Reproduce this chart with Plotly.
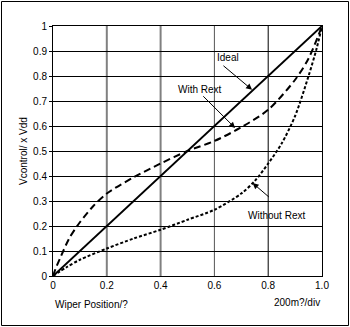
import plotly.graph_objects as go

# data
ideal_x = [0.0, 1.0]
ideal_y = [0.0, 1.0]

with_x = [0, 0.01, 0.03, 0.06, 0.1, 0.15, 0.2, 0.3, 0.4, 0.5, 0.6, 0.7, 0.8, 0.9, 0.95, 1.0]
with_y = [0, 0.03, 0.08, 0.15, 0.215, 0.28, 0.33, 0.395, 0.45, 0.5, 0.54, 0.595, 0.665, 0.785, 0.87, 1.0]

without_x = [0, 0.05, 0.1, 0.2, 0.3, 0.4, 0.5, 0.6, 0.7, 0.75, 0.8, 0.85, 0.9, 0.95, 0.98, 1.0]
without_y = [0, 0.035, 0.065, 0.11, 0.15, 0.185, 0.225, 0.265, 0.33, 0.38, 0.45, 0.53, 0.64, 0.8, 0.91, 1.0]

x_ticks = [0, 0.2, 0.4, 0.6, 0.8, 1.0]
x_ticktext = ["0", "0.2", "0.4", "0.6", "0.8", "1.0"]
y_ticks = [0, 0.1, 0.2, 0.3, 0.4, 0.5, 0.6, 0.7, 0.8, 0.9, 1.0]
y_ticktext = ["0", "0.1", "0.2", "0.3", "0.4", "0.5", "0.6", "0.7", "0.8", "0.9", "1"]

gray_grid_x = [0.2, 0.4]
dark_grid_x = [0.6]
black_grid_x = [0.8]

FONT = "Liberation Sans, Arial, sans-serif"

fig = go.Figure()
fig.add_trace(go.Scatter(x=ideal_x, y=ideal_y, mode="lines",
                         line=dict(color="black", width=2), name="Ideal"))
fig.add_trace(go.Scatter(x=with_x, y=with_y, mode="lines",
                         line=dict(color="black", width=2, dash="7px,4px", shape="spline", smoothing=0.8),
                         name="With Rext"))
fig.add_trace(go.Scatter(x=without_x, y=without_y, mode="lines",
                         line=dict(color="black", width=2, dash="3px,2px", shape="spline", smoothing=0.8),
                         name="Without Rext"))

shapes = []
for gx in gray_grid_x:
    shapes.append(dict(type="line", xref="x", yref="paper", x0=gx, x1=gx, y0=0, y1=1,
                       line=dict(color="#808080", width=2), layer="below"))
for gx in dark_grid_x:
    shapes.append(dict(type="line", xref="x", yref="paper", x0=gx, x1=gx, y0=0, y1=1,
                       line=dict(color="#555555", width=1), layer="below"))
for gx in black_grid_x:
    shapes.append(dict(type="line", xref="x", yref="paper", x0=gx, x1=gx, y0=0, y1=1,
                       line=dict(color="black", width=1), layer="below"))
# outer frame
shapes.append(dict(type="rect", xref="paper", yref="paper",
                   x0=(1.5 - 53) / 269, x1=(348.5 - 53) / 269,
                   y0=(276 - 325.5) / 250, y1=(276 - 1.5) / 250,
                   line=dict(color="black", width=1)))

annotations = [
    dict(x=0.74, y=0.745, ax=0.628, ay=0.846, xref="x", yref="y", axref="x", ayref="y",
         text="", showarrow=True, arrowhead=2, arrowsize=1.2, arrowwidth=1, arrowcolor="black"),
    dict(x=0.677, y=0.592, ax=0.553, ay=0.725, xref="x", yref="y", axref="x", ayref="y",
         text="", showarrow=True, arrowhead=2, arrowsize=1.2, arrowwidth=1, arrowcolor="black"),
    dict(x=0.742, y=0.372, ax=0.808, ay=0.311, xref="x", yref="y", axref="x", ayref="y",
         text="", showarrow=True, arrowhead=2, arrowsize=1.2, arrowwidth=1, arrowcolor="black"),
    dict(x=0.649, y=0.874, xref="x", yref="y", text="Ideal", showarrow=False,
         font=dict(family=FONT, size=10, color="black")),
    dict(x=0.547, y=0.747, xref="x", yref="y", text="With Rext", showarrow=False,
         font=dict(family=FONT, size=10, color="black")),
    dict(x=0.832, y=0.244, xref="x", yref="y", text="Without Rext", showarrow=False,
         font=dict(family=FONT, size=10, color="black")),
    dict(x=(23 - 53) / 269, y=0.5, xref="paper", yref="paper", text="Vcontrol/ x Vdd",
         textangle=-90, showarrow=False, xanchor="center", yanchor="middle",
         font=dict(family=FONT, size=10, color="black")),
    dict(x=0, y=(276 - 304) / 250, xref="paper", yref="paper", text="Wiper Position/?",
         showarrow=False, xanchor="left", yanchor="middle",
         font=dict(family=FONT, size=10, color="black")),
    dict(x=1, y=(276 - 302) / 250, xref="paper", yref="paper", text="200m?/div",
         showarrow=False, xanchor="right", yanchor="middle",
         font=dict(family=FONT, size=10, color="black")),
]

fig.update_layout(
    width=350, height=327,
    margin=dict(l=53, r=28, t=26, b=51, pad=0),
    paper_bgcolor="white", plot_bgcolor="white",
    showlegend=False,
    font=dict(family=FONT, size=10, color="black"),
    shapes=shapes,
    annotations=annotations,
    xaxis=dict(range=[0, 1], tickvals=x_ticks, ticktext=x_ticktext,
               showgrid=False,
               showline=True, linecolor="black", linewidth=1, mirror=True,
               ticks="", zeroline=False, fixedrange=True,
               tickfont=dict(family=FONT, size=10, color="black")),
    yaxis=dict(range=[0, 1], tickvals=y_ticks, ticktext=y_ticktext,
               showgrid=True, gridcolor="black", gridwidth=1,
               showline=True, linecolor="black", linewidth=1, mirror=True,
               ticks="outside", ticklen=3, tickcolor="black", zeroline=False, fixedrange=True,
               tickfont=dict(family=FONT, size=10, color="black")),
)

fig.write_html("out.html", config={"displayModeBar": False})
